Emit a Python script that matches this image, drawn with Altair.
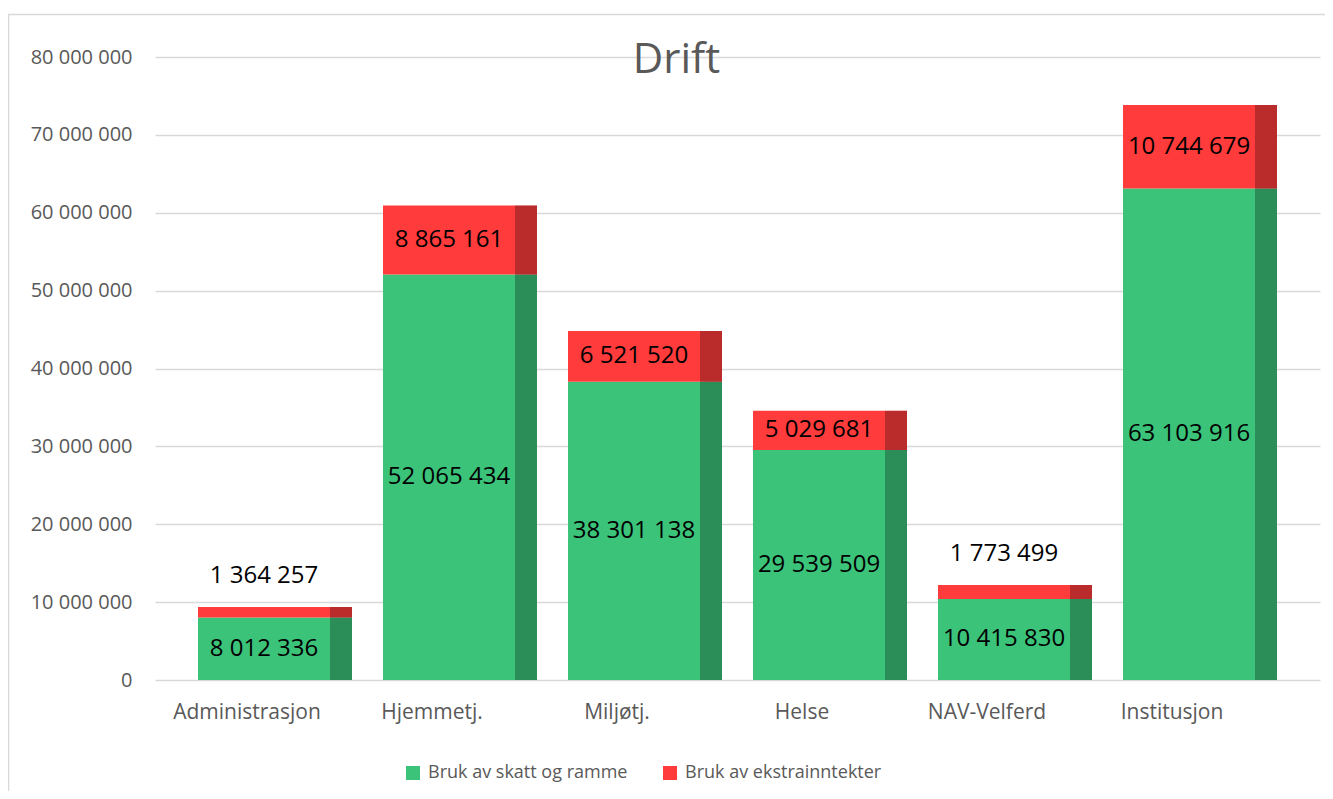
import altair as alt
import pandas as pd

categories = ["Administrasjon", "Hjemmetj.", "Miljøtj.", "Helse", "NAV-Velferd", "Institusjon"]
skatt = [8012336, 52065434, 38301138, 29539509, 10415830, 63103916]
ekstra = [1364257, 8865161, 6521520, 5029681, 1773499, 10744679]
series = ["Bruk av skatt og ramme", "Bruk av ekstrainntekter"]
colors = ["#3CC37A", "#FF3B3B"]
y_ticks = [0, 10000000, 20000000, 30000000, 40000000, 50000000, 60000000, 70000000, 80000000]

FONT = "Open Sans"
GREY = "#595959"

rows = []
for c, s, e in zip(categories, skatt, ekstra):
    rows.append(dict(cat=c, series=series[0], value=s, rank=0, base=0))
    rows.append(dict(cat=c, series=series[1], value=e, rank=1, base=s))
df = pd.DataFrame(rows)
df["top"] = df["base"] + df["value"]
df["mid"] = df["base"] + df["value"] / 2
df["label"] = df["value"].map(lambda v: f"{v:,}".replace(",", " "))

totals = pd.DataFrame(dict(cat=categories, total=[s + e for s, e in zip(skatt, ekstra)]))

x_enc = alt.X(
    "cat:N",
    sort=categories,
    scale=alt.Scale(paddingInner=0, paddingOuter=0.1486),
    axis=alt.Axis(
        title=None, labelAngle=0, domain=False, ticks=False, labelOffset=-28,
        labelPadding=21, labelFontSize=21, labelColor=GREY, labelFont=FONT,
    ),
)
y_scale = alt.Scale(domain=[0, 80000000])

bars = alt.Chart(df).mark_bar(width=154).encode(
    x=x_enc,
    y=alt.Y(
        "base:Q",
        scale=y_scale,
        axis=alt.Axis(
            values=y_ticks, title=None, domain=False, ticks=False, labelPadding=23,
            labelExpr="replace(format(datum.value, ','), regexp(',', 'g'), ' ')",
            gridColor="#D9D9D9", gridWidth=1.5, labelFontSize=20, labelColor=GREY, labelFont=FONT,
        ),
    ),
    y2="top:Q",
    color=alt.Color(
        "series:N",
        scale=alt.Scale(domain=series, range=colors),
        legend=alt.Legend(
            orient="none", legendX=249, legendY=707, direction="horizontal", title=None,
            symbolType="square", symbolSize=196, symbolStrokeWidth=0, labelFontSize=18,
            labelColor=GREY, labelFont=FONT, columnPadding=33, labelOffset=6, labelLimit=0,
        ),
    ),
)

strip = alt.Chart(totals).mark_bar(width=22, xOffset=66, color="black", opacity=0.27).encode(
    x=alt.X("cat:N", sort=categories),
    y=alt.Y("total:Q", scale=y_scale),
    y2=alt.datum(0),
)

inside = alt.Chart(df).transform_filter(
    "datum.rank == 0 || datum.value > 3000000"
).mark_text(font=FONT, fontSize=24, color="black", xOffset=-11, baseline="middle").encode(
    x=alt.X("cat:N", sort=categories),
    y=alt.Y("mid:Q", scale=y_scale),
    text="label:N",
)

above = alt.Chart(df).transform_filter(
    "datum.rank == 1 && datum.value <= 3000000"
).mark_text(font=FONT, fontSize=24, color="black", xOffset=-11, dy=-31, baseline="middle").encode(
    x=alt.X("cat:N", sort=categories),
    y=alt.Y("top:Q", scale=y_scale),
    text="label:N",
)

border = alt.Chart(pd.DataFrame({"a": [0]})).mark_rect(
    filled=False, stroke="#D9D9D9", strokeWidth=1.5
).encode(
    x=alt.value(-146.5), x2=alt.value(3000), y=alt.value(-42.5), y2=alt.value(3000)
)

chart = alt.layer(border, bars, strip, inside, above).properties(
    width=1165,
    height=623,
    padding={"left": 147, "top": 49, "right": 5, "bottom": 111},
    autosize=alt.AutoSizeParams(type="none"),
    title=alt.Title(
        "Drift", fontSize=42, font=FONT, color=GREY, fontWeight="normal",
        dx=-61, offset=-101.5, baseline="alphabetic",
    ),
).configure_view(stroke=None)

chart.save("out.html", embed_options={"renderer": "svg", "actions": False})
